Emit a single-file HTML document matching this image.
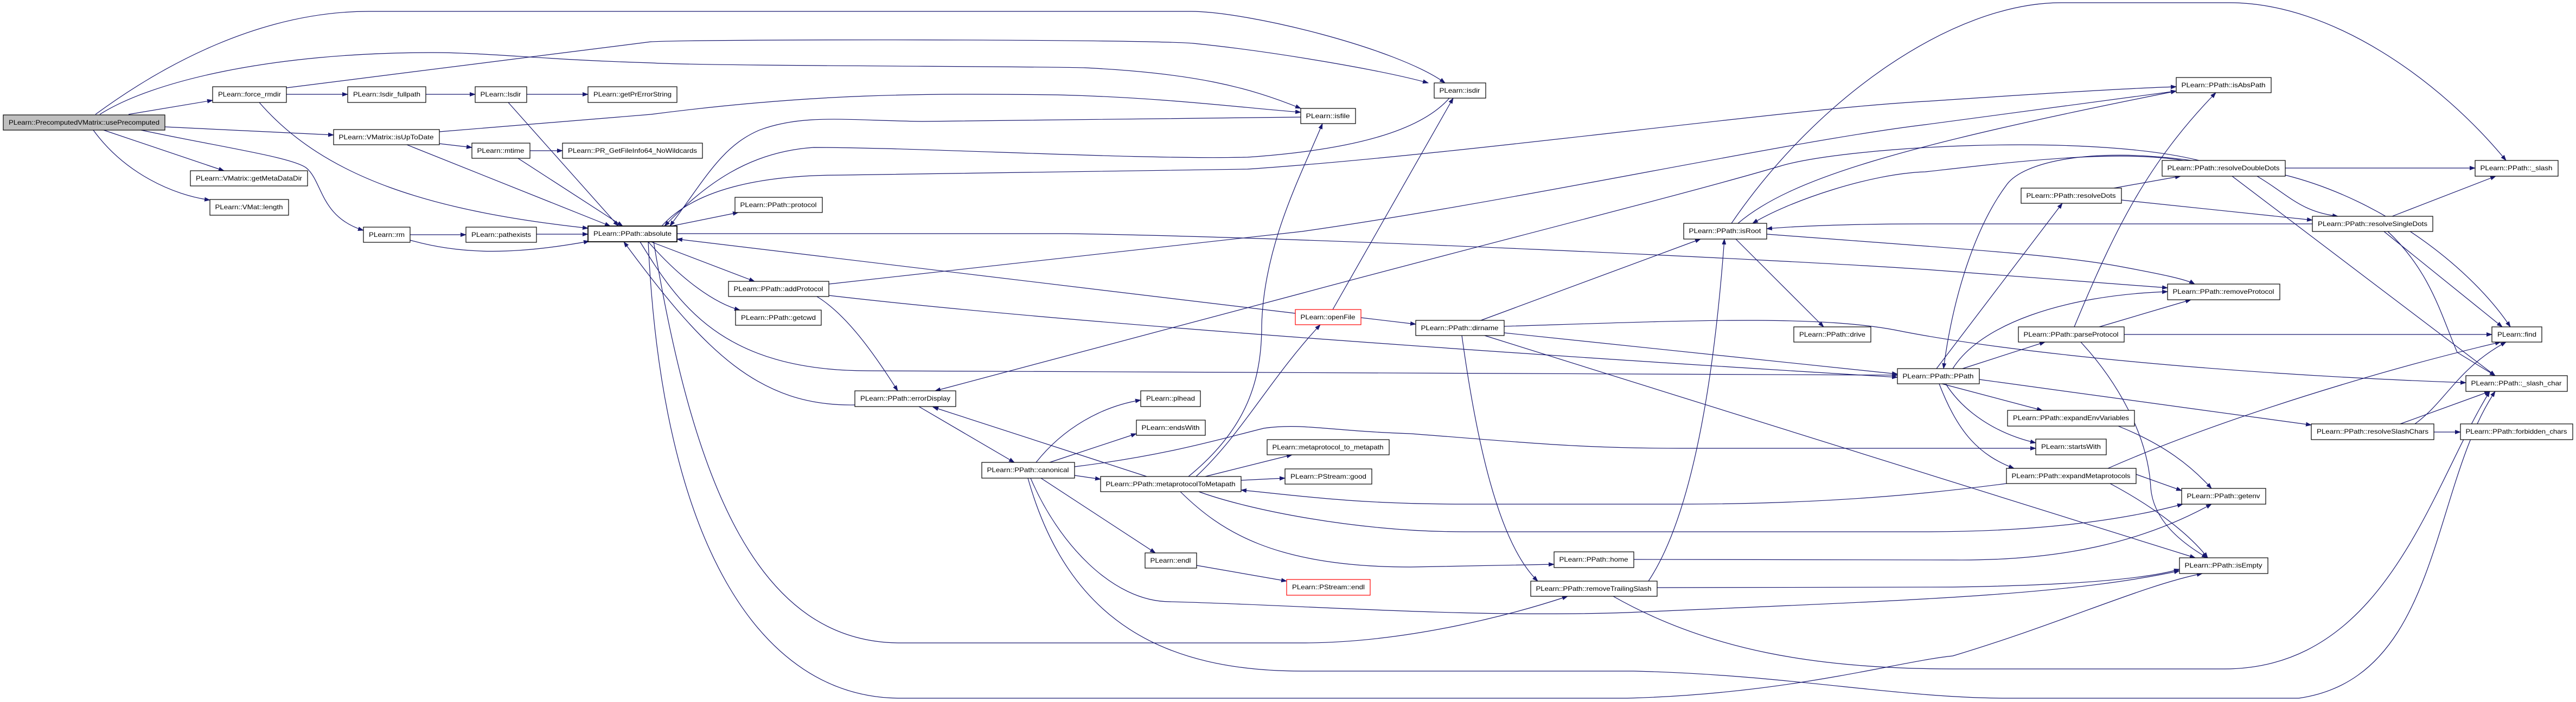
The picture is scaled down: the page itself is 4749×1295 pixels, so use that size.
<!DOCTYPE html>
<html><head><meta charset="utf-8"><style>
html,body{margin:0;padding:0;background:#fff;}
svg{display:block;}
text{font-family:"Liberation Sans",sans-serif;font-size:12px;fill:#000;}
.e{fill:none;stroke:#191970;stroke-width:1.2;marker-end:url(#a);}
.n{fill:#fff;stroke:#000;stroke-width:1.2;}
</style></head><body>
<svg width="4749" height="1295" viewBox="0 0 4749 1295" xmlns="http://www.w3.org/2000/svg">
<defs><marker id="a" markerUnits="userSpaceOnUse" markerWidth="11" markerHeight="8" refX="10" refY="4" orient="auto"><path d="M0,0 L11,4 L0,8 z" fill="#191970"/></marker></defs>
<rect width="4749" height="1295" fill="#fff"/>
<g>
<path class="e" d="M237,211 L392,185"/>
<path class="e" d="M304,234 L615,249"/>
<path class="e" d="M191,240 L413,315"/>
<path class="e" d="M172,240 C230,320 320,360 387,369"/>
<path class="e" d="M260,240 C400,270 540,290 565,310 C595,335 590,400 670,425"/>
<path class="e" d="M176,211 C300,120 480,21 680,21 L2195,21 C2300,21 2576,89 2664,153"/>
<path class="e" d="M184,211 C280,150 500,97 796,97 C900,97 1000,110 1200,116 C1300,122 1900,122 2000,125 C2200,135 2300,160 2398,200"/>
<path class="e" d="M528,174 L641,174"/>
<path class="e" d="M785,174 L876,174"/>
<path class="e" d="M971,174 L1084,174"/>
<path class="e" d="M528,162 L1200,77 C1300,72 2100,72 2200,80 C2350,95 2550,130 2633,153"/>
<path class="e" d="M478,189 C600,330 800,390 1084,421"/>
<path class="e" d="M937,189 L1140,417"/>
<path class="e" d="M810,243 L1200,211 C1500,172 1700,172 1950,175 C2150,180 2300,200 2398,207"/>
<path class="e" d="M810,265 L870,272"/>
<path class="e" d="M750,267 L1125,417"/>
<path class="e" d="M977,278 L1037,278"/>
<path class="e" d="M955,292 L1148,417"/>
<path class="e" d="M756,433 L859,433"/>
<path class="e" d="M989,432 L1084,432"/>
<path class="e" d="M756,443 C850,470 950,470 1086,445"/>
<path class="e" d="M1238,417 L1361,392"/>
<path class="e" d="M1200,446 L1391,519"/>
<path class="e" d="M1195,446 C1260,520 1320,560 1364,572"/>
<path class="e" d="M2398,216 L1700,224 C1560,222 1480,210 1400,240 C1330,270 1300,330 1235,417"/>
<path class="e" d="M2672,181 C2620,240 2500,276 2300,290 C2100,295 1700,272 1500,272 C1380,280 1300,340 1225,417"/>
<path class="e" d="M1220,417 C1280,350 1400,323 1550,323 L2300,312 C2700,285 3300,200 3550,187 C3800,170 3950,162 4012,160"/>
<path class="e" d="M1248,431 L1965,431 C2400,437 3300,480 3549,497 L3996,531"/>
<path class="e" d="M2388,578 L1248,441"/>
<path class="e" d="M1528,524 L2400,427 C2800,370 3300,260 3549,230 L4012,168"/>
<path class="e" d="M1528,545 C2000,600 2900,660 3498,696"/>
<path class="e" d="M1506,547 C1560,580 1610,650 1655,721"/>
<path class="e" d="M1180,446 C1250,560 1330,684 1600,684 L3498,692"/>
<path class="e" d="M1576,747 C1400,750 1300,650 1150,446"/>
<path class="e" d="M1694,750 L1870,853"/>
<path class="e" d="M2114,879 L1720,751"/>
<path class="e" d="M4054,296 C3850,245 3400,270 3280,307 C3100,360 2700,460 2400,541 L1724,721"/>
<path class="e" d="M1910,853 C1960,790 2030,750 2103,738"/>
<path class="e" d="M1935,853 L2095,800"/>
<path class="e" d="M1981,877 L2029,884"/>
<path class="e" d="M1919,882 L2130,1020"/>
<path class="e" d="M2206,1043 L2372,1072"/>
<path class="e" d="M1900,882 C1950,1000 2050,1110 2157,1110 C2400,1116 2700,1140 3000,1130 C3500,1108 3800,1100 4018,1053"/>
<path class="e" d="M1205,446 C1280,900 1400,1186 1660,1186 L2400,1186 C2600,1186 2800,1130 2890,1100"/>
<path class="e" d="M1195,446 C1220,1000 1400,1288 1660,1288 L3000,1288 C3300,1280 3500,1220 3600,1210 C3800,1150 3950,1080 4060,1058"/>
<path class="e" d="M1895,882 C1970,1150 2150,1238 2400,1238 L3012,1238 C3300,1245 3500,1288 3700,1288 L4238,1288 C4500,1250 4480,900 4600,722"/>
<path class="e" d="M2222,879 L2382,839"/>
<path class="e" d="M2288,886 L2369,882"/>
<path class="e" d="M2191,879 C2300,790 2326,700 2326,600 C2330,450 2400,320 2438,228"/>
<path class="e" d="M2205,879 C2290,800 2340,700 2434,599"/>
<path class="e" d="M2176,907 C2250,980 2350,1046 2600,1046 L2865,1041"/>
<path class="e" d="M2210,907 C2300,940 2500,981 2700,981 L3549,981 C3800,981 3950,950 4024,930"/>
<path class="e" d="M3699,892 C3600,905 3400,930 3100,930 L2700,930 C2500,930 2400,915 2288,904"/>
<path class="e" d="M3886,864 C4100,770 4400,680 4610,631"/>
<path class="e" d="M1981,861 C2150,840 2250,810 2330,790 C2400,780 2450,795 2600,800 C2800,815 2900,827 3100,827 L3753,827"/>
<path class="e" d="M3618,680 L3770,631"/>
<path class="e" d="M3570,680 L3802,375"/>
<path class="e" d="M3600,680 C3650,600 3800,545 3996,538"/>
<path class="e" d="M4040,296 C3850,270 3730,300 3700,340 C3640,420 3600,550 3583,680"/>
<path class="e" d="M4024,296 C3900,275 3700,300 3549,317 C3450,320 3300,370 3231,412"/>
<path class="e" d="M4263,413 L3549,413 C3400,413 3300,418 3257,422"/>
<path class="e" d="M3192,412 C3350,180 3600,5 3800,5 L4110,5 C4300,5 4500,150 4620,296"/>
<path class="e" d="M3204,412 C3300,330 3500,270 4012,168"/>
<path class="e" d="M3257,432 C3600,458 3800,470 3916,493 C3980,505 4030,515 4046,524"/>
<path class="e" d="M3200,441 L3362,603"/>
<path class="e" d="M2730,591 L3135,441"/>
<path class="e" d="M2773,614 L3498,690"/>
<path class="e" d="M2773,602 C3100,592 3350,580 3500,610 C3700,650 4100,690 4546,706"/>
<path class="e" d="M2737,619 L4047,1029"/>
<path class="e" d="M2695,619 C2720,800 2760,1000 2835,1072"/>
<path class="e" d="M3039,1072 C3120,950 3160,700 3179,441"/>
<path class="e" d="M3055,1084 L3600,1083 C3800,1080 3950,1070 4018,1050"/>
<path class="e" d="M2974,1100 C3150,1200 3350,1234 3600,1234 L4100,1234 C4400,1234 4480,900 4590,722"/>
<path class="e" d="M3012,1032 L3600,1033 C3800,1035 3950,1000 4077,930"/>
<path class="e" d="M3580,708 L3765,757"/>
<path class="e" d="M3587,708 C3620,760 3680,800 3753,817"/>
<path class="e" d="M3575,708 C3610,800 3650,840 3713,864"/>
<path class="e" d="M3649,700 L4261,784"/>
<path class="e" d="M3836,631 C3900,700 3960,800 3965,900 C3970,960 4020,1000 4069,1029"/>
<path class="e" d="M3870,603 L4039,553"/>
<path class="e" d="M3916,617 L4594,617"/>
<path class="e" d="M3824,603 C3900,420 3960,300 4085,171"/>
<path class="e" d="M3897,347 L4020,325"/>
<path class="e" d="M3911,369 L4263,406"/>
<path class="e" d="M4213,310 L4563,310"/>
<path class="e" d="M4161,325 C4220,360 4240,390 4310,399"/>
<path class="e" d="M4213,323 C4400,370 4560,500 4628,603"/>
<path class="e" d="M4115,325 L4600,693"/>
<path class="e" d="M4410,399 L4601,325"/>
<path class="e" d="M4395,427 L4613,603"/>
<path class="e" d="M4402,427 C4480,500 4500,580 4530,650 L4600,693"/>
<path class="e" d="M4487,797 L4536,797"/>
<path class="e" d="M4425,782 L4590,722"/>
<path class="e" d="M4452,782 C4510,740 4530,680 4620,631"/>
<path class="e" d="M3905,786 C3990,820 4040,860 4077,901"/>
<path class="e" d="M3938,875 L4022,905"/>
<path class="e" d="M3890,892 C3980,940 4040,990 4070,1029"/>
<path class="e" d="M2457,571 L2679,181"/>
<path class="e" d="M2509,586 L2610,598"/>
</g>
<g>
<rect x="6" y="212" width="298" height="28" fill="#bfbfbf" stroke="#000" stroke-width="1.2"/><text x="155" y="230" text-anchor="middle" textLength="278" lengthAdjust="spacingAndGlyphs">PLearn::PrecomputedVMatrix::usePrecomputed</text>
<rect class="n" x="392" y="160" width="136" height="29"/><text x="460" y="178" text-anchor="middle" textLength="116" lengthAdjust="spacingAndGlyphs">PLearn::force_rmdir</text>
<rect class="n" x="641" y="160" width="144" height="29"/><text x="713" y="178" text-anchor="middle" textLength="124" lengthAdjust="spacingAndGlyphs">PLearn::lsdir_fullpath</text>
<rect class="n" x="876" y="160" width="95" height="29"/><text x="923" y="178" text-anchor="middle" textLength="75" lengthAdjust="spacingAndGlyphs">PLearn::lsdir</text>
<rect class="n" x="1084" y="160" width="164" height="29"/><text x="1166" y="178" text-anchor="middle" textLength="144" lengthAdjust="spacingAndGlyphs">PLearn::getPrErrorString</text>
<rect class="n" x="615" y="239" width="195" height="28"/><text x="712" y="257" text-anchor="middle" textLength="175" lengthAdjust="spacingAndGlyphs">PLearn::VMatrix::isUpToDate</text>
<rect class="n" x="870" y="264" width="107" height="28"/><text x="923" y="282" text-anchor="middle" textLength="87" lengthAdjust="spacingAndGlyphs">PLearn::mtime</text>
<rect class="n" x="1037" y="264" width="258" height="28"/><text x="1166" y="282" text-anchor="middle" textLength="238" lengthAdjust="spacingAndGlyphs">PLearn::PR_GetFileInfo64_NoWildcards</text>
<rect class="n" x="351" y="315" width="216" height="28"/><text x="459" y="333" text-anchor="middle" textLength="196" lengthAdjust="spacingAndGlyphs">PLearn::VMatrix::getMetaDataDir</text>
<rect class="n" x="387" y="368" width="145" height="29"/><text x="459" y="386" text-anchor="middle" textLength="125" lengthAdjust="spacingAndGlyphs">PLearn::VMat::length</text>
<rect class="n" x="670" y="419" width="86" height="28"/><text x="713" y="437" text-anchor="middle" textLength="66" lengthAdjust="spacingAndGlyphs">PLearn::rm</text>
<rect class="n" x="859" y="419" width="130" height="28"/><text x="924" y="437" text-anchor="middle" textLength="110" lengthAdjust="spacingAndGlyphs">PLearn::pathexists</text>
<rect x="1084" y="417" width="164" height="29" fill="#fff" stroke="#000" stroke-width="1.8"/><text x="1166" y="435" text-anchor="middle" textLength="144" lengthAdjust="spacingAndGlyphs">PLearn::PPath::absolute</text>
<rect class="n" x="1355" y="364" width="161" height="28"/><text x="1435" y="382" text-anchor="middle" textLength="141" lengthAdjust="spacingAndGlyphs">PLearn::PPath::protocol</text>
<rect class="n" x="1343" y="519" width="185" height="28"/><text x="1435" y="537" text-anchor="middle" textLength="165" lengthAdjust="spacingAndGlyphs">PLearn::PPath::addProtocol</text>
<rect class="n" x="1356" y="572" width="158" height="28"/><text x="1435" y="590" text-anchor="middle" textLength="138" lengthAdjust="spacingAndGlyphs">PLearn::PPath::getcwd</text>
<rect x="2388" y="571" width="121" height="28" fill="#fff" stroke="#ff0000" stroke-width="1.2"/><text x="2448" y="589" text-anchor="middle" textLength="101" lengthAdjust="spacingAndGlyphs">PLearn::openFile</text>
<rect class="n" x="2644" y="153" width="95" height="28"/><text x="2691" y="171" text-anchor="middle" textLength="75" lengthAdjust="spacingAndGlyphs">PLearn::isdir</text>
<rect class="n" x="2398" y="200" width="101" height="28"/><text x="2448" y="218" text-anchor="middle" textLength="81" lengthAdjust="spacingAndGlyphs">PLearn::isfile</text>
<rect class="n" x="3104" y="412" width="153" height="29"/><text x="3180" y="430" text-anchor="middle" textLength="133" lengthAdjust="spacingAndGlyphs">PLearn::PPath::isRoot</text>
<rect class="n" x="2610" y="591" width="163" height="28"/><text x="2691" y="609" text-anchor="middle" textLength="143" lengthAdjust="spacingAndGlyphs">PLearn::PPath::dirname</text>
<rect class="n" x="3307" y="603" width="142" height="28"/><text x="3378" y="621" text-anchor="middle" textLength="122" lengthAdjust="spacingAndGlyphs">PLearn::PPath::drive</text>
<rect class="n" x="4012" y="143" width="175" height="28"/><text x="4099" y="161" text-anchor="middle" textLength="155" lengthAdjust="spacingAndGlyphs">PLearn::PPath::isAbsPath</text>
<rect class="n" x="3986" y="296" width="227" height="29"/><text x="4099" y="314" text-anchor="middle" textLength="207" lengthAdjust="spacingAndGlyphs">PLearn::PPath::resolveDoubleDots</text>
<rect class="n" x="4563" y="296" width="153" height="29"/><text x="4639" y="314" text-anchor="middle" textLength="133" lengthAdjust="spacingAndGlyphs">PLearn::PPath::_slash</text>
<rect class="n" x="3726" y="347" width="185" height="28"/><text x="3818" y="365" text-anchor="middle" textLength="165" lengthAdjust="spacingAndGlyphs">PLearn::PPath::resolveDots</text>
<rect class="n" x="4263" y="399" width="222" height="28"/><text x="4374" y="417" text-anchor="middle" textLength="202" lengthAdjust="spacingAndGlyphs">PLearn::PPath::resolveSingleDots</text>
<rect class="n" x="3996" y="524" width="207" height="29"/><text x="4099" y="542" text-anchor="middle" textLength="187" lengthAdjust="spacingAndGlyphs">PLearn::PPath::removeProtocol</text>
<rect class="n" x="3721" y="603" width="195" height="28"/><text x="3818" y="621" text-anchor="middle" textLength="175" lengthAdjust="spacingAndGlyphs">PLearn::PPath::parseProtocol</text>
<rect class="n" x="4594" y="603" width="92" height="28"/><text x="4640" y="621" text-anchor="middle" textLength="72" lengthAdjust="spacingAndGlyphs">PLearn::find</text>
<rect class="n" x="1576" y="721" width="186" height="29"/><text x="1669" y="739" text-anchor="middle" textLength="166" lengthAdjust="spacingAndGlyphs">PLearn::PPath::errorDisplay</text>
<rect class="n" x="2103" y="721" width="110" height="29"/><text x="2158" y="739" text-anchor="middle" textLength="90" lengthAdjust="spacingAndGlyphs">PLearn::plhead</text>
<rect class="n" x="2095" y="775" width="127" height="28"/><text x="2158" y="793" text-anchor="middle" textLength="107" lengthAdjust="spacingAndGlyphs">PLearn::endsWith</text>
<rect class="n" x="1810" y="853" width="171" height="29"/><text x="1895" y="871" text-anchor="middle" textLength="151" lengthAdjust="spacingAndGlyphs">PLearn::PPath::canonical</text>
<rect class="n" x="2029" y="879" width="259" height="28"/><text x="2158" y="897" text-anchor="middle" textLength="239" lengthAdjust="spacingAndGlyphs">PLearn::PPath::metaprotocolToMetapath</text>
<rect class="n" x="2336" y="811" width="225" height="28"/><text x="2448" y="829" text-anchor="middle" textLength="205" lengthAdjust="spacingAndGlyphs">PLearn::metaprotocol_to_metapath</text>
<rect class="n" x="2369" y="865" width="160" height="28"/><text x="2449" y="883" text-anchor="middle" textLength="140" lengthAdjust="spacingAndGlyphs">PLearn::PStream::good</text>
<rect class="n" x="2111" y="1020" width="95" height="28"/><text x="2158" y="1038" text-anchor="middle" textLength="75" lengthAdjust="spacingAndGlyphs">PLearn::endl</text>
<rect x="2372" y="1069" width="154" height="29" fill="#fff" stroke="#ff0000" stroke-width="1.2"/><text x="2449" y="1087" text-anchor="middle" textLength="134" lengthAdjust="spacingAndGlyphs">PLearn::PStream::endl</text>
<rect class="n" x="2865" y="1018" width="147" height="29"/><text x="2938" y="1036" text-anchor="middle" textLength="127" lengthAdjust="spacingAndGlyphs">PLearn::PPath::home</text>
<rect class="n" x="2822" y="1072" width="233" height="28"/><text x="2938" y="1090" text-anchor="middle" textLength="213" lengthAdjust="spacingAndGlyphs">PLearn::PPath::removeTrailingSlash</text>
<rect class="n" x="3498" y="680" width="151" height="28"/><text x="3573" y="698" text-anchor="middle" textLength="131" lengthAdjust="spacingAndGlyphs">PLearn::PPath::PPath</text>
<rect class="n" x="3701" y="757" width="234" height="29"/><text x="3818" y="775" text-anchor="middle" textLength="214" lengthAdjust="spacingAndGlyphs">PLearn::PPath::expandEnvVariables</text>
<rect class="n" x="3753" y="810" width="130" height="29"/><text x="3818" y="828" text-anchor="middle" textLength="110" lengthAdjust="spacingAndGlyphs">PLearn::startsWith</text>
<rect class="n" x="3699" y="864" width="239" height="28"/><text x="3818" y="882" text-anchor="middle" textLength="219" lengthAdjust="spacingAndGlyphs">PLearn::PPath::expandMetaprotocols</text>
<rect class="n" x="4022" y="901" width="155" height="29"/><text x="4099" y="919" text-anchor="middle" textLength="135" lengthAdjust="spacingAndGlyphs">PLearn::PPath::getenv</text>
<rect class="n" x="4018" y="1029" width="163" height="29"/><text x="4099" y="1047" text-anchor="middle" textLength="143" lengthAdjust="spacingAndGlyphs">PLearn::PPath::isEmpty</text>
<rect class="n" x="4546" y="693" width="187" height="29"/><text x="4639" y="711" text-anchor="middle" textLength="167" lengthAdjust="spacingAndGlyphs">PLearn::PPath::_slash_char</text>
<rect class="n" x="4261" y="782" width="226" height="29"/><text x="4374" y="800" text-anchor="middle" textLength="206" lengthAdjust="spacingAndGlyphs">PLearn::PPath::resolveSlashChars</text>
<rect class="n" x="4536" y="782" width="207" height="29"/><text x="4639" y="800" text-anchor="middle" textLength="187" lengthAdjust="spacingAndGlyphs">PLearn::PPath::forbidden_chars</text>
</g>
</svg>
</body></html>
